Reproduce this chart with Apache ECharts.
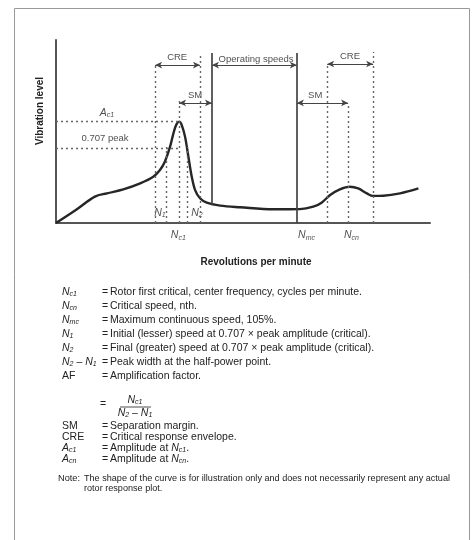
<!DOCTYPE html>
<html>
<head>
<meta charset="utf-8">
<script src="https://cdn.jsdelivr.net/npm/echarts@6/dist/echarts.min.js"></script>
<style>
  html, body { margin: 0; padding: 0; background: #fff; }
  #chart { width: 474px; height: 540px; }
</style>
</head>
<body>
<div id="chart"></div>
<script>
// response curve, x = revolutions (0-100), y = vibration level (0-100)
const curveX = [0, 5.3, 10.4, 13.6, 18.0, 22.5, 26.0, 27.8, 29.1, 30.5, 31.4, 32.2, 33.0, 33.6, 34.5, 35.4, 36.3, 37.2, 38.5, 40.3, 43.9, 49.2, 58.1, 65.2, 68.8, 71.0, 73.3, 75.9, 78.6, 80.8, 83.1, 84.8, 87.5, 92.0, 96.9];
const curveY = [0, 7.1, 14.4, 16.2, 18.4, 21.7, 25.3, 29.0, 33.5, 41.7, 49.0, 53.9, 55.4, 53.6, 47.2, 36.2, 25.3, 18.0, 13.5, 11.1, 9.5, 8.6, 7.5, 7.6, 8.9, 11.1, 15.3, 18.4, 19.8, 18.9, 16.2, 14.8, 14.9, 16.2, 18.9];

// dotted verticals: CRE1 left, N1, Nc1, N2, CRE1 right, CRE2 left, Ncn, CRE2 right
const dotX = [26.5, 29.4, 32.9, 35.0, 38.5, 72.5, 78.1, 84.8];
const dotTop = [87.4, 41.5, 67.2, 41.5, 91.8, 86.9, 65.6, 93.4];
// solid verticals bounding the operating speeds
const opX = [41.7, 64.4];
const opTop = [92.9, 92.9];
const opBottom = [10.0, 0];
// dashed horizontals: Ac1, 0.707 peak
const hY = [55.7, 41.0];
const hEnd = [32.9, 32.9];
// double arrows: CRE, SM, operating speeds, SM, CRE
const arrowY = [86.3, 65.6, 86.3, 65.6, 86.9];
const arrowFrom = [26.5, 32.9, 41.7, 64.4, 72.5];
const arrowTo = [38.5, 41.7, 64.4, 78.1, 84.8];
// text marks in the plot
const markText = ['CRE', 'SM', 'Operating speeds', 'SM', 'CRE', '{i|A}{s|c1}', '0.707 peak', '{i|N}{s|1}', '{i|N}{s|2}', '{i|N}{s|c1}', '{i|N}{s|mc}', '{i|N}{s|cn}'];
const markX = [32.4, 37.2, 53.5, 69.3, 78.6, 13.6, 13.1, 27.8, 37.7, 32.7, 67.0, 79.0];
const markY = [90.7, 69.9, 89.6, 69.9, 91.3, 60.1, 46.4, 5.5, 5.5, -6.6, -6.6, -6.6];

// definitions under the chart
const defSym = ['{i|N}{s|c1}', '{i|N}{s|cn}', '{i|N}{s|mc}', '{i|N}{s|1}', '{i|N}{s|2}', '{i|N}{s|2} – {i|N}{s|1}', 'AF'];
const defText = [
  'Rotor first critical, center frequency, cycles per minute.',
  'Critical speed, nth.',
  'Maximum continuous speed, 105%.',
  'Initial (lesser) speed at 0.707 × peak amplitude (critical).',
  'Final (greater) speed at 0.707 × peak amplitude (critical).',
  'Peak width at the half-power point.',
  'Amplification factor.'
];
const defSym2 = ['SM', 'CRE', '{i|A}{s|c1}', '{i|A}{s|cn}'];
const defText2 = ['Separation margin.', 'Critical response envelope.', 'Amplitude at {i|N}{s|c1}.', 'Amplitude at {i|N}{s|cn}.'];
const noteText = ['The shape of the curve is for illustration only and does not necessarily represent any actual', 'rotor response plot.'];

const FONT = '"Liberation Sans Narrow", "Liberation Sans", Arial, sans-serif';
const INK = '#222';
const rich = {
  i: { fontStyle: 'italic', fontSize: 10.5, fontFamily: FONT, fill: INK, color: INK, lineHeight: 12 },
  s: { fontStyle: 'italic', fontSize: 7, fontFamily: FONT, fill: INK, color: INK, lineHeight: 6, verticalAlign: 'bottom' }
};

function seg(a, b, style, sym) {
  return [{ coord: a, symbol: sym, lineStyle: style }, { coord: b, symbol: sym }];
}
const dotted = { type: [2, 3], color: '#666', width: 1.4 };
const solid = { type: 'solid', color: '#444', width: 1.7 };
const arrowStyle = { type: 'solid', color: '#444', width: 1.1 };

const guides = [];
dotX.forEach((x, i) => guides.push(seg([x, 0], [x, dotTop[i]], dotted, 'none')));
hY.forEach((y, i) => guides.push(seg([0, y], [hEnd[i], y], dotted, 'none')));
opX.forEach((x, i) => guides.push(seg([x, opBottom[i]], [x, opTop[i]], solid, 'none')));
arrowY.forEach((y, i) => guides.push(seg([arrowFrom[i], y], [arrowTo[i], y], arrowStyle, 'arrow')));

const txt = (text, x, y, opts) => ({
  type: 'text', x: x, y: y, silent: true,
  style: Object.assign({
    text: text, fontFamily: FONT, fontSize: 10.5, fill: INK,
    align: 'left', textAlign: 'left', verticalAlign: 'middle', textVerticalAlign: 'middle', rich: rich
  }, opts || {})
});

const graphics = [
  { type: 'rect', shape: { x: 14.5, y: 8.5, width: 455, height: 545 }, style: { fill: 'none', stroke: '#999', lineWidth: 1 } },
  txt('Vibration level', 40, 111, { fontWeight: 'bold', fontSize: 10, align: 'center', textAlign: 'center' }),
  txt('Revolutions per minute', 256, 262, { fontWeight: 'bold', fontSize: 10, align: 'center', textAlign: 'center' })
];
graphics[1].rotation = Math.PI / 2;
const defRowY = [292, 306, 320, 334, 348, 362, 376];
defSym.forEach((s, i) => {
  graphics.push(txt(s, 62, defRowY[i]));
  graphics.push(txt('=', 102, defRowY[i]));
  graphics.push(txt(defText[i], 110, defRowY[i]));
});
graphics.push(txt('=', 100, 404));
graphics.push(txt('{i|N}{s|c1}', 135, 400, { align: 'center', textAlign: 'center' }));
graphics.push({ type: 'line', shape: { x1: 120, y1: 407, x2: 151, y2: 407 }, style: { stroke: INK, lineWidth: 0.8 } });
graphics.push(txt('{i|N}{s|2} – {i|N}{s|1}', 135, 413, { align: 'center', textAlign: 'center' }));
const defRowY2 = [426, 437, 448, 459];
defSym2.forEach((s, i) => {
  graphics.push(txt(s, 62, defRowY2[i]));
  graphics.push(txt('=', 102, defRowY2[i]));
  graphics.push(txt(defText2[i], 110, defRowY2[i]));
});
graphics.push(txt('Note:', 58, 478, { fontSize: 9.2 }));
graphics.push(txt(noteText[0], 84, 478, { fontSize: 9.1 }));
graphics.push(txt(noteText[1], 84, 488, { fontSize: 9.1 }));

const chart = echarts.init(document.getElementById('chart'));
chart.setOption({
  animation: false,
  grid: { left: 56, top: 40, width: 374, height: 183 },
  xAxis: {
    type: 'value', min: 0, max: 100,
    axisLine: { show: true, lineStyle: { color: '#555', width: 2 } },
    axisTick: { show: false }, axisLabel: { show: false }, splitLine: { show: false }
  },
  yAxis: {
    type: 'value', min: 0, max: 100,
    axisLine: { show: true, lineStyle: { color: '#555', width: 2 } },
    axisTick: { show: false }, axisLabel: { show: false }, splitLine: { show: false }
  },
  series: [
    {
      type: 'line', name: 'guides', data: [], silent: true,
      markLine: {
        silent: true, animation: false, symbolSize: [5, 7],
        label: { show: false }, emphasis: { disabled: true },
        data: guides
      }
    },
    {
      type: 'line', name: 'response', smooth: 0.35, showSymbol: false, silent: true,
      lineStyle: { color: '#262626', width: 2.4 },
      data: curveX.map((x, i) => [x, curveY[i]])
    },
    {
      type: 'scatter', name: 'marks', symbolSize: 0, silent: true, clip: false,
      data: markX.map((x, i) => ({ value: [x, markY[i]], name: markText[i] })),
      label: {
        show: true, position: 'inside', formatter: p => p.name,
        fontFamily: FONT, fontSize: 9.5, color: INK,
        rich: {
          i: { fontStyle: 'italic', fontSize: 10.5, fontFamily: FONT, color: INK, lineHeight: 12 },
          s: { fontStyle: 'italic', fontSize: 7, fontFamily: FONT, color: INK, lineHeight: 6, verticalAlign: 'bottom' }
        }
      }
    }
  ],
  graphic: graphics
});
</script>
</body>
</html>
